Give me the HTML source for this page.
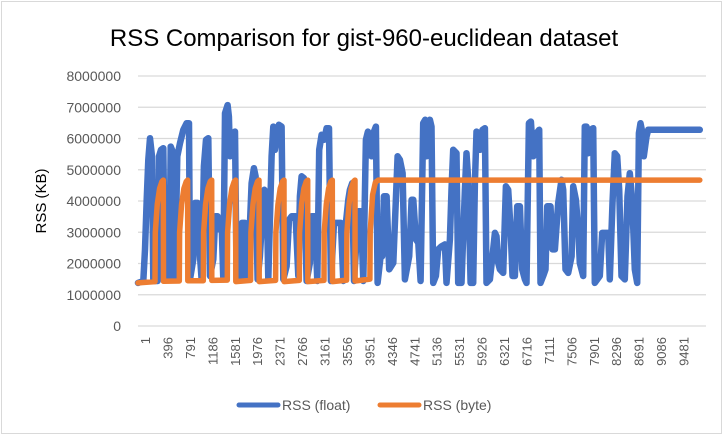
<!DOCTYPE html>
<html><head><meta charset="utf-8"><style>
body{margin:0;background:#fff;}
svg{display:block;font-family:"Liberation Sans",sans-serif;}
</style></head><body>
<svg id="chart" width="724" height="436" viewBox="0 0 724 436">
<rect x="1.5" y="1.5" width="720" height="432" fill="#fff" stroke="#d9d9d9"/>
<text x="364" y="46" text-anchor="middle" font-size="24" fill="#000">RSS Comparison for gist-960-euclidean dataset</text>
<text transform="translate(46,201) rotate(-90)" text-anchor="middle" font-size="15" fill="#000">RSS (KB)</text>
<g id="grid"></g>
<g id="ylabels"></g>
<g id="xlabels"></g>
<g id="series"></g>
<g>
<g>
<line x1="239" y1="405" x2="278" y2="405" stroke="#4472c4" stroke-width="5" stroke-linecap="round"/>
<text x="282" y="410" font-size="14" fill="#595959">RSS (float)</text></g>
<g>
<line x1="380" y1="405" x2="419" y2="405" stroke="#ed7d31" stroke-width="5" stroke-linecap="round"/>
<text x="423" y="410" font-size="14" fill="#595959">RSS (byte)</text></g>
</g>
</svg>
<script>
const yTicks=[0,1000000,2000000,3000000,4000000,5000000,6000000,7000000,8000000];
const xTickLabels=[1,396,791,1186,1581,1976,2371,2766,3161,3556,3951,4346,4741,5136,5531,5926,6321,6716,7111,7506,7901,8296,8691,9086,9481];
const floatIdx=[0,94,123,153,182,211,246,270,346,370,405,446,475,551,575,622,651,692,739,798,856,898,915,974,1003,1050,1091,1120,1161,1197,1238,1267,1326,1361,1402,1431,1472,1502,1531,1578,1601,1619,1666,1707,1736,1813,1830,1883,1924,1971,2000,2041,2071,2106,2147,2194,2223,2264,2294,2352,2382,2411,2481,2529,2558,2616,2658,2704,2775,2822,2851,2881,2922,2968,3027,3057,3115,3156,3191,3233,3279,3321,3362,3397,3450,3573,3614,3661,3702,3731,3772,3802,3878,3925,3966,4013,4048,4083,4113,4142,4189,4218,4271,4300,4330,4377,4423,4494,4535,4570,4611,4658,4699,4775,4817,4846,4893,4934,4975,5022,5057,5081,5110,5139,5168,5198,5245,5286,5344,5403,5432,5491,5520,5550,5608,5638,5696,5755,5784,5814,5855,5902,5931,5960,6019,6066,6107,6136,6195,6254,6283,6312,6342,6371,6430,6477,6518,6559,6594,6635,6676,6723,6764,6811,6840,6882,6917,6958,7016,7063,7087,7134,7175,7204,7263,7298,7339,7398,7456,7486,7527,7574,7633,7662,7709,7750,7779,7838,7867,7896,7926,7967,8014,8043,8131,8172,8278,8307,8354,8395,8436,8471,8512,8571,8618,8659,8700,8747,8788,8818,8847,8882,8905,8952,8982,9891];
const floatVal=[1.38,1.44,2.45,4.04,5.32,6.01,5.43,1.44,1.44,5.43,5.64,5.69,1.49,1.49,5.74,5.53,1.49,5.43,5.85,6.28,6.49,6.49,1.49,2.13,3.94,3.94,2.23,1.49,5.11,5.96,6.01,1.60,2.13,3.51,3.51,3.09,3.30,1.49,6.81,7.07,6.70,5.43,6.17,6.22,1.49,1.49,3.30,3.30,1.49,3.30,4.57,5.05,4.79,1.49,2.23,3.72,4.36,4.26,1.49,5.43,6.38,5.64,6.44,6.38,1.49,1.91,3.40,3.51,3.51,1.60,4.15,4.79,4.73,1.44,2.02,3.51,3.51,1.44,5.64,6.12,5.96,6.33,6.33,1.44,3.30,3.30,1.44,3.30,4.04,4.36,4.57,1.44,3.67,3.67,1.44,5.96,6.22,6.06,5.43,6.17,6.38,1.38,2.23,2.23,4.15,4.15,1.81,2.02,3.83,5.43,5.32,4.89,1.49,2.23,4.04,4.04,2.77,2.66,1.44,6.49,6.60,5.43,6.06,6.60,6.38,1.38,1.60,2.45,2.55,2.61,1.38,2.77,4.36,5.64,5.53,1.38,1.38,4.36,5.53,4.68,1.38,1.38,4.57,6.22,5.64,6.28,6.33,1.38,1.49,2.45,2.98,2.87,2.02,1.81,1.70,4.47,4.36,3.09,1.60,1.60,3.83,3.83,1.81,1.49,1.38,6.49,6.54,5.43,6.17,6.28,1.38,1.60,1.81,3.83,3.83,2.45,2.45,3.94,4.68,4.36,1.81,1.70,2.23,4.47,4.04,3.09,2.02,1.60,6.38,6.38,5.53,6.28,6.33,1.38,1.60,2.98,2.98,1.49,3.94,5.53,5.43,4.36,1.60,1.49,4.15,4.89,4.04,1.81,1.38,6.17,6.49,6.17,5.43,6.06,6.28,6.28];
const byteIdx=[0,299,304,340,380,420,446,449,727,732,768,808,848,874,877,1150,1155,1191,1231,1271,1297,1300,1572,1577,1613,1653,1693,1719,1722,1983,1988,2024,2064,2104,2130,2133,2423,2428,2464,2504,2544,2570,2573,2840,2845,2881,2921,2961,2987,2990,3274,3279,3315,3355,3395,3421,3424,3673,3678,3714,3754,3794,3820,3823,4083,4088,4130,4180,4230,9891];
const byteVal=[1.38,1.42,3.0,3.9,4.4,4.62,4.67,1.43,1.44,3.0,3.9,4.4,4.62,4.67,1.45,1.45,3.0,3.9,4.4,4.62,4.67,1.46,1.47,3.0,3.9,4.4,4.62,4.67,1.42,1.46,3.0,3.9,4.4,4.62,4.67,1.42,1.46,3.0,3.9,4.4,4.62,4.67,1.42,1.46,3.0,3.9,4.4,4.62,4.67,1.42,1.46,3.0,3.9,4.4,4.62,4.67,1.42,1.47,3.0,3.9,4.4,4.62,4.67,1.44,1.50,3.0,4.2,4.6,4.67,4.67];

const NS="http://www.w3.org/2000/svg";
const X0=138,X1=706,Y0=326,Y1=76;
function xs(i){return X0+i/10000*(X1-X0);}
function ys(v){return Y0-v/8000000*(Y0-Y1);}
const grid=document.getElementById('grid'),yl=document.getElementById('ylabels'),xl=document.getElementById('xlabels'),ser=document.getElementById('series');
yTicks.forEach(t=>{
  const l=document.createElementNS(NS,'line');
  
  
  l.setAttribute('x1',X0);l.setAttribute('x2',X1);l.setAttribute('y1',ys(t));l.setAttribute('y2',ys(t));
  l.setAttribute('stroke','#d9d9d9');l.setAttribute('stroke-width','1.3');grid.appendChild(l);
  const tx=document.createElementNS(NS,'text');
  
  
  tx.setAttribute('x',121);tx.setAttribute('y',ys(t)+5);tx.setAttribute('text-anchor','end');
  tx.setAttribute('font-size','14');tx.setAttribute('fill','#595959');tx.textContent=t;yl.appendChild(tx);
});
xTickLabels.forEach(c=>{
  const tx=document.createElementNS(NS,'text');
  
  
  const x=xs(c)+12;
  tx.setAttribute('transform','translate('+x+',337) rotate(-90)');
  tx.setAttribute('text-anchor','end');tx.setAttribute('font-size','13');tx.setAttribute('fill','#595959');
  tx.textContent=c;xl.appendChild(tx);
});
function drawLine(idx,val,color,name,w){
  const p=document.createElementNS(NS,'polyline');
  
  
  p.setAttribute('points',idx.map((i,k)=>xs(i).toFixed(1)+','+ys(val[k]*1e6).toFixed(1)).join(' '));
  p.setAttribute('fill','none');p.setAttribute('stroke',color);p.setAttribute('stroke-width',w);
  p.setAttribute('stroke-linejoin','round');p.setAttribute('stroke-linecap','round');
  ser.appendChild(p);
}
drawLine(floatIdx,floatVal,'#4472c4','series-rss-float','6.5');
drawLine(byteIdx,byteVal,'#ed7d31','series-rss-byte','5.5');
</script>
</body></html>
